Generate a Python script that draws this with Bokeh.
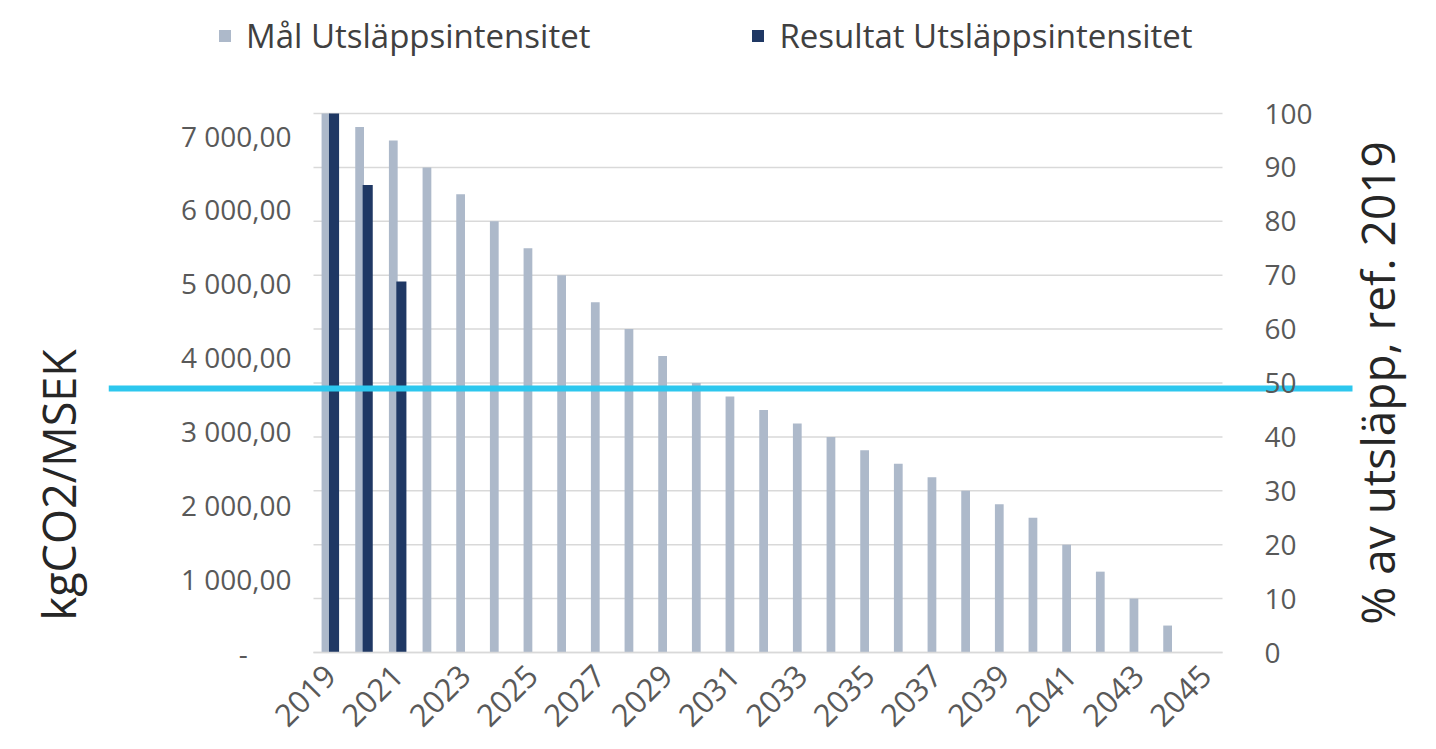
import math
from bokeh.plotting import figure
from bokeh.models import (ColumnDataSource, Range1d, LinearAxis, FixedTicker,
                          Legend, LegendItem, Title, Label)
from bokeh.transform import dodge
from bokeh.embed import file_html
from bokeh.resources import INLINE

# ---------------- data ----------------
years = [2019, 2020, 2021, 2022, 2023, 2024, 2025, 2026, 2027,
         2028, 2029, 2030, 2031, 2032, 2033, 2034, 2035, 2036,
         2037, 2038, 2039, 2040, 2041, 2042, 2043, 2044, 2045]
# Mål Utsläppsintensitet (kgCO2/MSEK)
mal_values = [7300, 7118, 6935, 6570, 6205, 5840, 5475, 5110, 4745, 4380, 4015, 3650,
              3468, 3285, 3103, 2920, 2738, 2555, 2373, 2190, 2008, 1825, 1460, 1095,
              730, 365, 0]
# Resultat Utsläppsintensitet (kgCO2/MSEK)
resultat_years = [2019, 2020, 2021]
resultat_values = [7300, 6330, 5025]

left_max = 7300          # kgCO2/MSEK equal to 100 % (ref. 2019)
target_line_pct = 49     # cyan marker line, % av utsläpp

left_ticks = [0, 1000, 2000, 3000, 4000, 5000, 6000, 7000]
left_tick_labels = ["-\u00a0\u00a0\u00a0\u00a0\u00a0\u00a0", "1 000,00", "2 000,00",
                    "3 000,00", "4 000,00", "5 000,00", "6 000,00", "7 000,00"]
pct_ticks = [0, 10, 20, 30, 40, 50, 60, 70, 80, 90, 100]
x_label_years = [2019, 2021, 2023, 2025, 2027, 2029, 2031, 2033,
                 2035, 2037, 2039, 2041, 2043, 2045]
legend_labels = ["Mål Utsläppsintensitet", "Resultat Utsläppsintensitet"]
left_title = "kgCO2/MSEK"
right_title = "% av utsläpp, ref. 2019"

# ---------------- style / layout ----------------
FONT = "Open Sans"
LIGHT = "#ADB9CA"
DARK = "#1F3864"
CYAN = "#2DC7EE"
GRID = "#D9D9D9"
TICK_COLOR = "#595959"
TITLE_COLOR = "#262626"

W, H = 1430, 745
FL = 108                                       # frame left; everything but the left title is in the frame
AREA_L, AREA_R, AREA_T, AREA_B = 313, 1222, 113, 652   # chart area (0..100 %)
LINE_L, LINE_R = 108, 1352                     # extent of the cyan marker line (px)
LEFT_TITLE_BOTTOM = 620                        # where the left title text starts (px)
n = len(years)
unit = (AREA_R - AREA_L) / n                   # px per year
x_lo = years[0] - 0.5
x_hi = years[-1] + 0.5
x_start = x_lo - (AREA_L - FL) / unit
x_end = x_hi + (W - AREA_R) / unit
chart_h = AREA_B - AREA_T
f_top = AREA_B / chart_h
f_bot = (H - AREA_B) / chart_h

p = figure(width=W, height=H,
           x_range=Range1d(x_start, x_end),
           y_range=Range1d(-left_max * f_bot, left_max * f_top),
           output_backend="svg", toolbar_location=None,
           min_border_left=FL, min_border_right=0,
           min_border_top=0, min_border_bottom=0,
           outline_line_color=None, background_fill_color="white",
           x_axis_type=None, y_axis_type=None)
p.extra_y_ranges = {"pct": Range1d(-100 * f_bot, 100 * f_top)}
p.grid.visible = False

# left axis (fixed at the left edge of the category area)
ly = LinearAxis(ticker=FixedTicker(ticks=left_ticks), fixed_location=x_lo,
                bounds=(0, left_max))
ly.major_label_overrides = {t: l for t, l in zip(left_ticks, left_tick_labels)}
ly.axis_line_color = None
ly.major_tick_line_color = None
ly.minor_tick_line_color = None
ly.major_label_text_font = FONT
ly.major_label_text_font_size = "28px"
ly.major_label_text_color = TICK_COLOR
ly.major_label_standoff = 16
p.add_layout(ly, "left")

# right axis (fixed at the right edge of the category area)
ry = LinearAxis(y_range_name="pct", ticker=FixedTicker(ticks=pct_ticks), fixed_location=x_hi,
                bounds=(pct_ticks[0], pct_ticks[-1]))
ry.axis_line_color = None
ry.major_tick_line_color = None
ry.minor_tick_line_color = None
ry.major_label_text_font = FONT
ry.major_label_text_font_size = "28px"
ry.major_label_text_color = TICK_COLOR
ry.major_label_standoff = 36
p.add_layout(ry, "right")

# x axis (fixed at zero)
xa = LinearAxis(ticker=FixedTicker(ticks=x_label_years), bounds=(x_lo, x_hi),
                fixed_location=0)
xa.major_label_orientation = math.pi / 4
xa.major_tick_line_color = None
xa.minor_tick_line_color = None
xa.axis_line_color = GRID
xa.axis_line_width = 1.5
xa.major_label_text_font = FONT
xa.major_label_text_font_size = "31px"
xa.major_label_text_color = TICK_COLOR
xa.major_label_standoff = 12
p.add_layout(xa, "below")

# horizontal grid lines over the category area only (right-axis ticks)
p.segment(x0=x_lo, x1=x_hi, y0=pct_ticks, y1=pct_ticks, y_range_name="pct",
          line_color=GRID, line_width=1.5, level="underlay")

# bars
src = ColumnDataSource(dict(year=years, mal=mal_values))
r1 = p.vbar(x=dodge("year", -0.13), top="mal", width=0.26,
            source=src, fill_color=LIGHT, line_color=None)
src2 = ColumnDataSource(dict(year=resultat_years, res=resultat_values))
r2 = p.vbar(x=dodge("year", 0.11), top="res", width=0.30,
            source=src2, fill_color=DARK, line_color=None)

# cyan marker line, extending past the chart area on both sides
p.segment(x0=x_lo - (AREA_L - LINE_L) / unit, x1=x_hi + (LINE_R - AREA_R) / unit,
          y0=target_line_pct, y1=target_line_pct, y_range_name="pct",
          line_color=CYAN, line_width=6)

# legend at the top
legend = Legend(items=[LegendItem(label=legend_labels[0], renderers=[r1]),
                       LegendItem(label=legend_labels[1], renderers=[r2])],
                orientation="horizontal", location=(109, 687),
                border_line_color=None, background_fill_alpha=0,
                padding=0, margin=0, spacing=160,
                glyph_width=15, glyph_height=15, label_standoff=14,
                label_text_font=FONT, label_text_font_size="33px",
                label_text_color="#404040")
p.add_layout(legend)

# right title (reads bottom to top, centred on the percentage scale)
p.add_layout(Label(x=x_hi + (1376 - AREA_R) / unit, y=(pct_ticks[0] + pct_ticks[-1]) / 2,
                   y_range_name="pct", text=right_title, angle=math.pi / 2,
                   text_align="center", text_baseline="middle", text_font=FONT,
                   text_font_size="46px", text_color=TITLE_COLOR))

# left title
p.add_layout(Title(text=left_title, align="left", offset=H - LEFT_TITLE_BOTTOM,
                   vertical_align="middle", standoff=38, text_font=FONT,
                   text_font_size="45px", text_font_style="normal",
                   text_color=TITLE_COLOR), "left")

open("out.html", "w").write(file_html(p, INLINE))
